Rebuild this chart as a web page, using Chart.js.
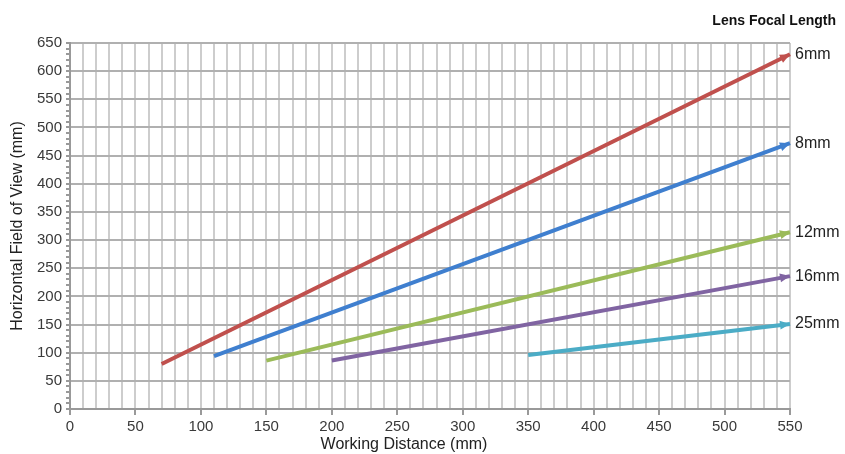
<!DOCTYPE html>
<html>
<head>
<meta charset="utf-8">
<script src="https://cdn.jsdelivr.net/npm/chart.js@4/dist/chart.umd.min.js"></script>
<style>
html, body { margin: 0; padding: 0; background: #fff; }
</style>
</head>
<body>
<canvas id="fovChart" width="845" height="454"></canvas>
<script>
// lens data: each lens is a straight line from start to end
var focalLengths = ['6mm', '8mm', '12mm', '16mm', '25mm'];
var startDistance = [70, 110, 150, 200, 350];
var startFov = [80, 94, 86, 86, 96];
var endDistance = [550, 550, 550, 550, 550];
var endFov = [630, 472, 314, 236, 151];
var lineColors = ['#c0504d', '#3f7fcf', '#9bbb59', '#8064a2', '#4bacc6'];

var fontFamily = '"Liberation Sans", Arial, sans-serif';

var datasets = focalLengths.map(function(name, i) {
    return {
        label: name,
        data: [
            {x: startDistance[i], y: startFov[i]},
            {x: endDistance[i], y: endFov[i]}
        ],
        borderColor: lineColors[i],
        backgroundColor: lineColors[i],
        borderWidth: 4,
        pointRadius: 0,
        showLine: true,
        clip: false
    };
});

// arrow heads, lens names, legend heading and the x title (sits left of centre)
var lensLabels = {
    id: 'lensLabels',
    afterDatasetsDraw: function(chart) {
        var ctx = chart.ctx;
        ctx.save();
        chart.data.datasets.forEach(function(ds, i) {
            var pts = chart.getDatasetMeta(i).data;
            var a = pts[pts.length - 2], b = pts[pts.length - 1];
            var ang = Math.atan2(b.y - a.y, b.x - a.x);
            var len = 10, half = 4.5;
            ctx.fillStyle = ds.borderColor;
            ctx.beginPath();
            ctx.moveTo(b.x, b.y);
            ctx.lineTo(b.x - len * Math.cos(ang) + half * Math.sin(ang),
                       b.y - len * Math.sin(ang) - half * Math.cos(ang));
            ctx.lineTo(b.x - len * Math.cos(ang) - half * Math.sin(ang),
                       b.y - len * Math.sin(ang) + half * Math.cos(ang));
            ctx.closePath();
            ctx.fill();

            ctx.fillStyle = '#222';
            ctx.font = '16px ' + fontFamily;
            ctx.textAlign = 'left';
            ctx.textBaseline = 'middle';
            ctx.fillText(ds.label, b.x + 5, b.y);
        });
        ctx.fillStyle = '#111';
        ctx.font = 'bold 14px ' + fontFamily;
        ctx.textAlign = 'right';
        ctx.textBaseline = 'middle';
        ctx.fillText('Lens Focal Length', 836, 21);

        ctx.fillStyle = '#222';
        ctx.font = '16px ' + fontFamily;
        ctx.textAlign = 'center';
        ctx.fillText('Working Distance (mm)', 404, 445);
        ctx.restore();
    }
};

function every50(v) { return v % 50 === 0 ? v : ''; }

new Chart(document.getElementById('fovChart'), {
    type: 'scatter',
    data: {datasets: datasets},
    plugins: [lensLabels],
    options: {
        responsive: false,
        animation: false,
        layout: {padding: {left: 0, top: 43, right: 55, bottom: 0}},
        plugins: {
            legend: {display: false},
            tooltip: {enabled: false}
        },
        scales: {
            x: {
                type: 'linear',
                min: 0,
                max: 550,
                afterFit: function(s) { s.height = 45; },
                border: {color: '#999', width: 2},
                grid: {
                    color: '#cdcdcd',
                    lineWidth: 2,
                    tickLength: 6,
                    tickColor: function(c) { return c.tick && c.tick.value % 50 === 0 ? '#999' : 'rgba(0,0,0,0)'; }
                },
                ticks: {
                    stepSize: 10,
                    autoSkip: false,
                    maxRotation: 0,
                    padding: 3,
                    color: '#3a3a3a',
                    font: {family: fontFamily, size: 15},
                    callback: every50
                }
            },
            y: {
                min: 0,
                max: 650,
                afterFit: function(s) { s.width = 70; },
                border: {color: '#999', width: 2},
                grid: {
                    color: function(c) { return c.tick && c.tick.value % 50 === 0 ? '#b0b0b0' : 'rgba(0,0,0,0)'; },
                    lineWidth: 2,
                    tickLength: 4,
                    tickColor: '#999'
                },
                ticks: {
                    stepSize: 10,
                    autoSkip: false,
                    padding: 4,
                    color: '#3a3a3a',
                    font: {family: fontFamily, size: 15},
                    callback: every50
                },
                title: {
                    display: true,
                    text: 'Horizontal Field of View (mm)',
                    color: '#222',
                    padding: {top: 8, bottom: 0},
                    font: {family: fontFamily, size: 16}
                }
            }
        }
    }
});
</script>
</body>
</html>
